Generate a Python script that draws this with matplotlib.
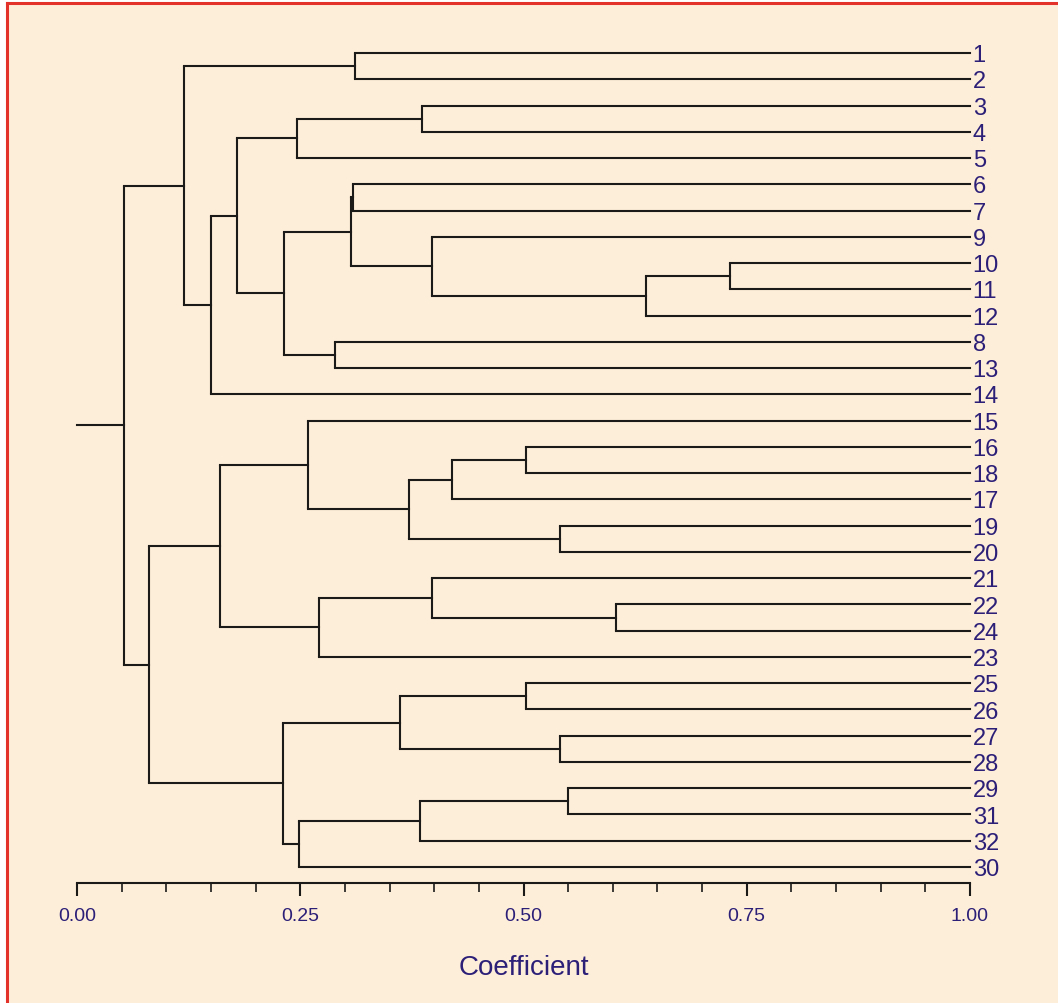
import matplotlib
matplotlib.use("Agg")
import matplotlib.pyplot as plt
from matplotlib.patches import Rectangle
from matplotlib.lines import Line2D

# leaves, top to bottom
etiquetas = ['1', '2', '3', '4', '5', '6', '7', '9', '10', '11', '12', '8', '13', '14',
             '15', '16', '18', '17', '19', '20', '21', '22', '24', '23', '25', '26',
             '27', '28', '29', '31', '32', '30']

# uniones: (hijo_a, hijo_b, coeficiente); ids < 32 are leaves, then new clusters 32, 33, ...
hijo_a = [0, 2, 33, 5, 8, 36, 7, 35, 11, 39, 34, 42, 32,
          15, 45, 18, 46, 14, 21, 20, 51, 49,
          24, 26, 54, 28, 57, 58, 56, 53, 44]
hijo_b = [1, 3, 4, 6, 9, 10, 37, 38, 12, 40, 41, 13, 43,
          16, 17, 19, 47, 48, 22, 50, 23, 52,
          25, 27, 55, 29, 30, 31, 59, 60, 61]
coef = [0.311, 0.386, 0.246, 0.309, 0.731, 0.637, 0.398, 0.307, 0.289, 0.232, 0.179, 0.150, 0.120,
        0.503, 0.420, 0.541, 0.372, 0.259, 0.604, 0.398, 0.271, 0.160,
        0.503, 0.541, 0.362, 0.550, 0.384, 0.249, 0.231, 0.081, 0.053]

fondo = '#fdeed9'
rojo = '#e2322a'
azul = '#2c1f78'
negro = '#1c1a18'

fig = plt.figure(figsize=(10.58, 10.04), dpi=100)
fig.patch.set_facecolor('white')
W, H = 1058, 1004

# cream panel with red frame on top and left
fig.patches.append(Rectangle((7 / W, 0), 1, 1 - 4 / H, transform=fig.transFigure,
                             facecolor=fondo, edgecolor='none', zorder=-10))
fig.lines.append(Line2D([7 / W, 7 / W], [0, 1 - 4 / H], transform=fig.transFigure,
                        color=rojo, lw=2.2, zorder=-5))
fig.lines.append(Line2D([7 / W, 1], [1 - 4 / H, 1 - 4 / H], transform=fig.transFigure,
                        color=rojo, lw=2.2, zorder=-5))

n = len(etiquetas)
y_top, y_bot = 54, 884
paso = (868 - 54) / (n - 1)
ax = fig.add_axes([77 / W, 1 - y_bot / H, 893 / W, (y_bot - y_top) / H])
ax.patch.set_visible(False)
ax.set_xlim(0, 1)
ax.set_ylim((y_bot - y_top) / paso, 0)

ypos = {i: float(i) for i in range(n)}
xpos = {i: 1.0 for i in range(n)}
for k in range(len(coef)):
    a, b, h = hijo_a[k], hijo_b[k], coef[k]
    nid = n + k
    ax.plot([h, h], [ypos[a], ypos[b]], color=negro, lw=1.5, solid_capstyle='butt', clip_on=False)
    ax.plot([h, xpos[a]], [ypos[a], ypos[a]], color=negro, lw=1.5, clip_on=False)
    ax.plot([h, xpos[b]], [ypos[b], ypos[b]], color=negro, lw=1.5, clip_on=False)
    ypos[nid] = (ypos[a] + ypos[b]) / 2
    xpos[nid] = h

raiz = n + len(coef) - 1
ax.plot([0, xpos[raiz]], [ypos[raiz], ypos[raiz]], color=negro, lw=1.5, clip_on=False)

for i, lab in enumerate(etiquetas):
    ax.text(1.003, i + 0.08, lab, color=azul, fontsize=17, family='Liberation Sans',
            ha='left', va='center', clip_on=False)

for s in ['top', 'left', 'right']:
    ax.spines[s].set_visible(False)
ax.spines['bottom'].set_color(negro)
ax.spines['bottom'].set_linewidth(1.5)
ax.set_yticks([])
ax.set_xticks([0, 0.25, 0.5, 0.75, 1.0])
ax.set_xticklabels(['0.00', '0.25', '0.50', '0.75', '1.00'])
ax.set_xticks([i * 0.05 for i in range(21)], minor=True)
ax.tick_params(axis='x', which='major', direction='out', length=9, width=1.5,
               color=negro, pad=8, labelsize=14, labelcolor=azul)
ax.tick_params(axis='x', which='minor', direction='out', length=6.5, width=1.2, color=negro)
for t in ax.get_xticklabels():
    t.set_family('Liberation Sans')
ax.set_xlabel('Coefficient', fontsize=20, color=azul, family='Liberation Sans', labelpad=22)

fig.savefig('out.png', dpi=100)
